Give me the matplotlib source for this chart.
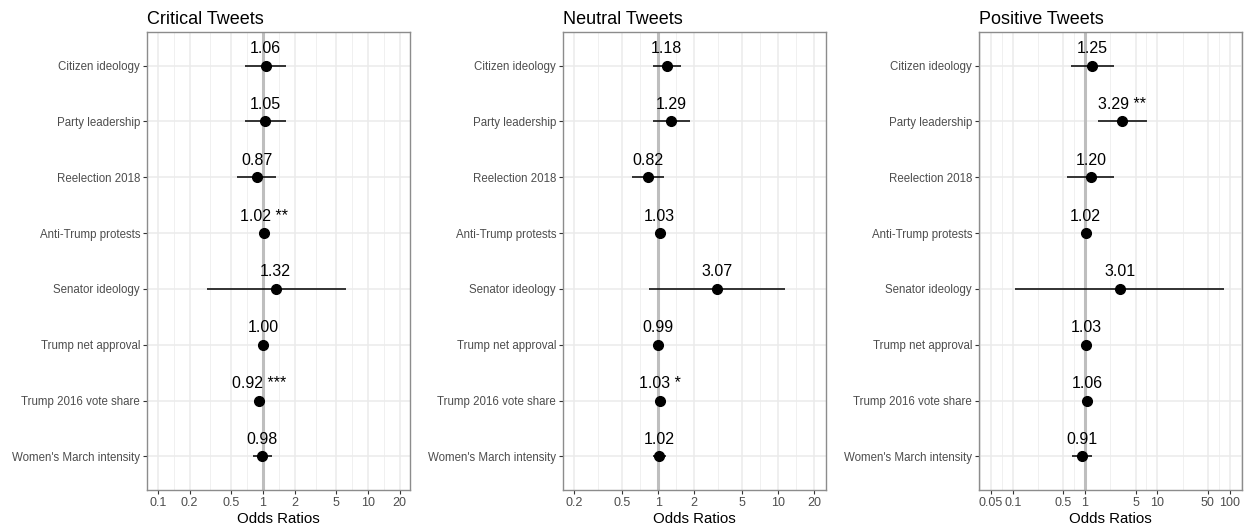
import numpy as np
import matplotlib
matplotlib.use("Agg")
import matplotlib.pyplot as plt

predictors = ["Citizen ideology", "Party leadership", "Reelection 2018", "Anti-Trump protests",
              "Senator ideology", "Trump net approval", "Trump 2016 vote share", "Women's March intensity"]

panel_titles = ["Critical Tweets", "Neutral Tweets", "Positive Tweets"]

# Odds ratios
critical_or = [1.06, 1.05, 0.87, 1.02, 1.32, 1.00, 0.92, 0.98]
neutral_or = [1.18, 1.29, 0.82, 1.03, 3.07, 0.99, 1.03, 1.02]
positive_or = [1.25, 3.29, 1.20, 1.02, 3.01, 1.03, 1.06, 0.91]

# Confidence intervals (lower, upper)
critical_lo = [0.68, 0.67, 0.57, 1.01, 0.29, 0.99, 0.89, 0.81]
critical_hi = [1.66, 1.66, 1.33, 1.03, 6.13, 1.01, 0.95, 1.21]
neutral_lo = [0.91, 0.91, 0.61, 1.02, 0.84, 0.98, 1.01, 0.90]
neutral_hi = [1.55, 1.85, 1.13, 1.04, 11.4, 1.00, 1.05, 1.16]
positive_lo = [0.63, 1.53, 0.57, 1.01, 0.108, 1.01, 1.03, 0.66]
positive_hi = [2.52, 7.27, 2.52, 1.03, 84.5, 1.05, 1.09, 1.26]

# Significance stars
critical_sig = ["", "", "", "**", "", "", "***", ""]
neutral_sig = ["", "", "", "", "", "", "*", ""]
positive_sig = ["", "**", "", "", "", "", "", ""]

critical_ticks = [0.1, 0.2, 0.5, 1, 2, 5, 10, 20]
neutral_ticks = [0.2, 0.5, 1, 2, 5, 10, 20]
positive_ticks = [0.05, 0.1, 0.5, 1, 5, 10, 50, 100]

panels = [
    (critical_or, critical_lo, critical_hi, critical_sig, critical_ticks, (0.0786, 25.1)),
    (neutral_or, neutral_lo, neutral_hi, neutral_sig, neutral_ticks, (0.161, 25.1)),
    (positive_or, positive_lo, positive_hi, positive_sig, positive_ticks, (0.0342, 148)),
]

FONT = "Liberation Sans"
fig = plt.figure(figsize=(12.48, 5.29), dpi=100)
lefts = [147, 563, 979]
width_px = 263
top_px, bot_px = 32, 490
W, H = 1248, 529

for i, (ors, lo, hi, sig, ticks, xl) in enumerate(panels):
    ax = fig.add_axes([lefts[i] / W, 1 - bot_px / H, width_px / W, (bot_px - top_px) / H])
    ax.set_xscale("log")
    ax.set_xlim(*xl)
    n = len(predictors)
    ypos = np.arange(n, 0, -1)
    ax.set_ylim(0.4, n + 0.6)

    # gridlines
    minor = [np.sqrt(ticks[k] * ticks[k + 1]) for k in range(len(ticks) - 1)]
    lo_lim, hi_lim = xl
    extra = []
    if ticks[0] / np.sqrt(ticks[1] / ticks[0]) > lo_lim:
        extra.append(ticks[0] / np.sqrt(ticks[1] / ticks[0]))
    if ticks[-1] * np.sqrt(ticks[-1] / ticks[-2]) < hi_lim:
        extra.append(ticks[-1] * np.sqrt(ticks[-1] / ticks[-2]))
    for m in minor + extra:
        ax.axvline(m, color="#F0F0F0", lw=0.7, zorder=0)
    for t in ticks:
        ax.axvline(t, color="#EBEBEB", lw=1.1, zorder=0)
    for y in ypos:
        ax.axhline(y, color="#EBEBEB", lw=1.1, zorder=0)

    ax.axvline(1, color="#BEBEBE", lw=2.2, zorder=1)

    ax.hlines(ypos, lo, hi, color="black", lw=1.1, zorder=2)
    ax.plot(ors, ypos, "o", color="black", ms=7, zorder=3)
    for x, y, s in zip(ors, ypos, sig):
        lab = f"{x:.2f}" + (f" {s}" if s else "")
        ax.text(x, y + 0.17, lab, ha="center", va="bottom", fontsize=11.5,
                color="black", family=FONT)

    ax.set_xticks(ticks)
    ax.set_xticklabels([f"{t:g}" for t in ticks])
    ax.xaxis.set_minor_locator(matplotlib.ticker.NullLocator())
    ax.set_yticks(ypos)
    ax.set_yticklabels(predictors)
    ax.tick_params(axis="both", colors="#333333", labelcolor="#4D4D4D",
                   length=3, width=0.8, direction="out", pad=2)
    ax.tick_params(axis="y", labelsize=8.3)
    ax.tick_params(axis="x", labelsize=9)
    for lab in ax.get_xticklabels() + ax.get_yticklabels():
        lab.set_family(FONT)
    ax.set_xlabel("Odds Ratios", fontsize=10.8, family=FONT, labelpad=2)
    ax.set_title(panel_titles[i], loc="left", fontsize=13, family=FONT, pad=6)
    for sp in ax.spines.values():
        sp.set_color("#8C8C8C")
        sp.set_linewidth(1.0)

fig.savefig("out.png", dpi=100)
